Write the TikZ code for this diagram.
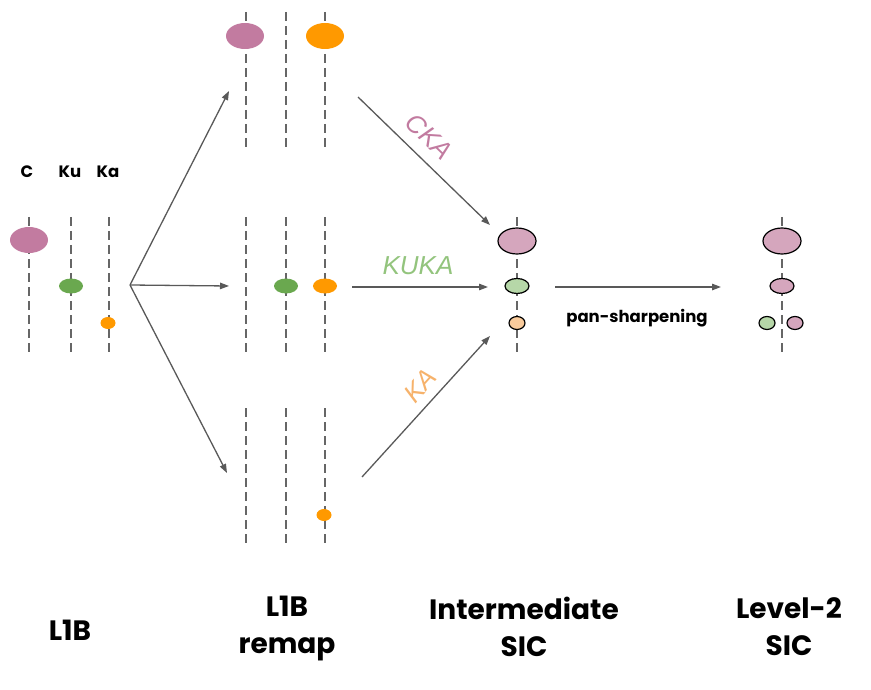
\documentclass[tikz,border=0pt]{standalone}
\usepackage{fontspec}
\setmainfont{Poppins}
\newfontfamily\labfont{Liberation Sans}
\usetikzlibrary{arrows.meta,shapes.geometric}
\definecolor{cpink}{HTML}{C27BA0}
\definecolor{cgreen}{HTML}{6AA84F}
\definecolor{corange}{HTML}{FF9900}
\definecolor{lpink}{HTML}{D5A6BD}
\definecolor{lgreen}{HTML}{B6D7A8}
\definecolor{lorange}{HTML}{F9CB9C}
\definecolor{tkuka}{HTML}{93C47D}
\definecolor{tka}{HTML}{F6B26B}
\definecolor{lgray}{HTML}{666666}
\definecolor{agray}{HTML}{595959}
\tikzset{
  band/.style={draw=lgray,line width=1.4pt,dash pattern=on 9pt off 5pt},
  big/.style={ellipse,inner sep=0pt,minimum width=38pt,minimum height=26pt},
  mid/.style={ellipse,inner sep=0pt,minimum width=24pt,minimum height=15pt},
  sml/.style={ellipse,inner sep=0pt,minimum width=15pt,minimum height=12pt},
  outl/.style={draw=black,line width=1.2pt},
  arr/.style={draw=agray,line width=1.3pt,-{Triangle[length=9pt,width=6.5pt]}},
  head/.style={font=\bfseries\fontsize{16.5}{20}\selectfont},
  title/.style={font=\bfseries\fontsize{28}{37}\selectfont,align=center},
  band label/.style={font=\labfont\itshape\fontsize{26}{30}\selectfont}
}
\begin{document}
\begin{tikzpicture}[x=1pt,y=-1pt]
\useasboundingbox (0,0) rectangle (871,690);
% ---------- L1B ----------
\foreach \x in {29,71,109} \draw[band] (\x,217) -- (\x,355);
\node[head] (hC) at (27,172) {C};
\node[head] (hKu) at (70,172) {Ku};
\node[head] (hKa) at (108,172) {Ka};
\node[big,fill=cpink] (aC) at (29,240) {};
\node[mid,fill=cgreen] (aKu) at (71,286) {};
\node[sml,fill=corange] (aKa) at (108,323) {};
% ---------- L1B remap ----------
\foreach \x in {246,286,325} {
  \draw[band] (\x,12) -- (\x,150);
  \draw[band] (\x,217) -- (\x,355);
  \draw[band] (\x,408) -- (\x,547);
}
\node[big,fill=cpink] (tC) at (245,36) {};
\node[big,fill=corange] (tKa) at (325,36) {};
\node[mid,fill=cgreen] (mKu) at (286,286) {};
\node[mid,fill=corange] (mKa) at (325,286) {};
\node[sml,fill=corange] (bKa) at (324,515) {};
% ---------- Intermediate SIC ----------
\draw[band] (517,217) -- (517,355);
\node[big,fill=lpink,outl] (iC) at (517,241) {};
\node[mid,fill=lgreen,outl] (iKu) at (517,286) {};
\node[sml,fill=lorange,outl,minimum width=16pt,minimum height=13pt] (iKa) at (517,323) {};
% ---------- Level-2 SIC ----------
\draw[band] (782,217) -- (782,355);
\node[big,fill=lpink,outl] (lC) at (782,241) {};
\node[mid,fill=lpink,outl] (lKu) at (782,286) {};
\node[sml,fill=lgreen,outl,minimum width=16pt,minimum height=13pt] (lG) at (767,323) {};
\node[sml,fill=lpink,outl,minimum width=16pt,minimum height=13pt] (lP) at (795,323) {};
% ---------- connectors ----------
\coordinate (fork) at (130,285);
\coordinate (toTop) at (229,91);
\coordinate (toMid) at (229,286);
\coordinate (toBot) at (227,473);
\draw[arr] (fork) -- (toTop);
\draw[arr] (fork) -- (toMid);
\draw[arr] (fork) -- (toBot);
\coordinate (ckaS) at (358,97);
\coordinate (ckaE) at (490,225);
\coordinate (kukaS) at (352,287);
\coordinate (kukaE) at (488,287);
\coordinate (kaS) at (362,477);
\coordinate (kaE) at (490,336);
\draw[arr] (ckaS) -- (ckaE);
\draw[arr] (kukaS) -- (kukaE);
\draw[arr] (kaS) -- (kaE);
\coordinate (psS) at (555,287);
\coordinate (psE) at (721,287);
\draw[arr] (psS) -- (psE);
% ---------- labels ----------
\node[band label,text=cpink,rotate=-44] (lcka) at (429,137) {CKA};
\node[band label,text=tkuka] (lkuka) at (418,266) {KUKA};
\node[band label,text=tka,rotate=48] (lka) at (420,386) {KA};
\node[head] (lps) at (637,318) {pan-sharpening};
\node[title] (t1) at (70,630) {L1B};
\node[title] (t2) at (287,629) {L1B\\remap};
\node[title] (t3) at (524,627) {Intermediate\\SIC};
\node[title] (t4) at (789,627) {Level-2\\SIC};
\end{tikzpicture}
\end{document}
